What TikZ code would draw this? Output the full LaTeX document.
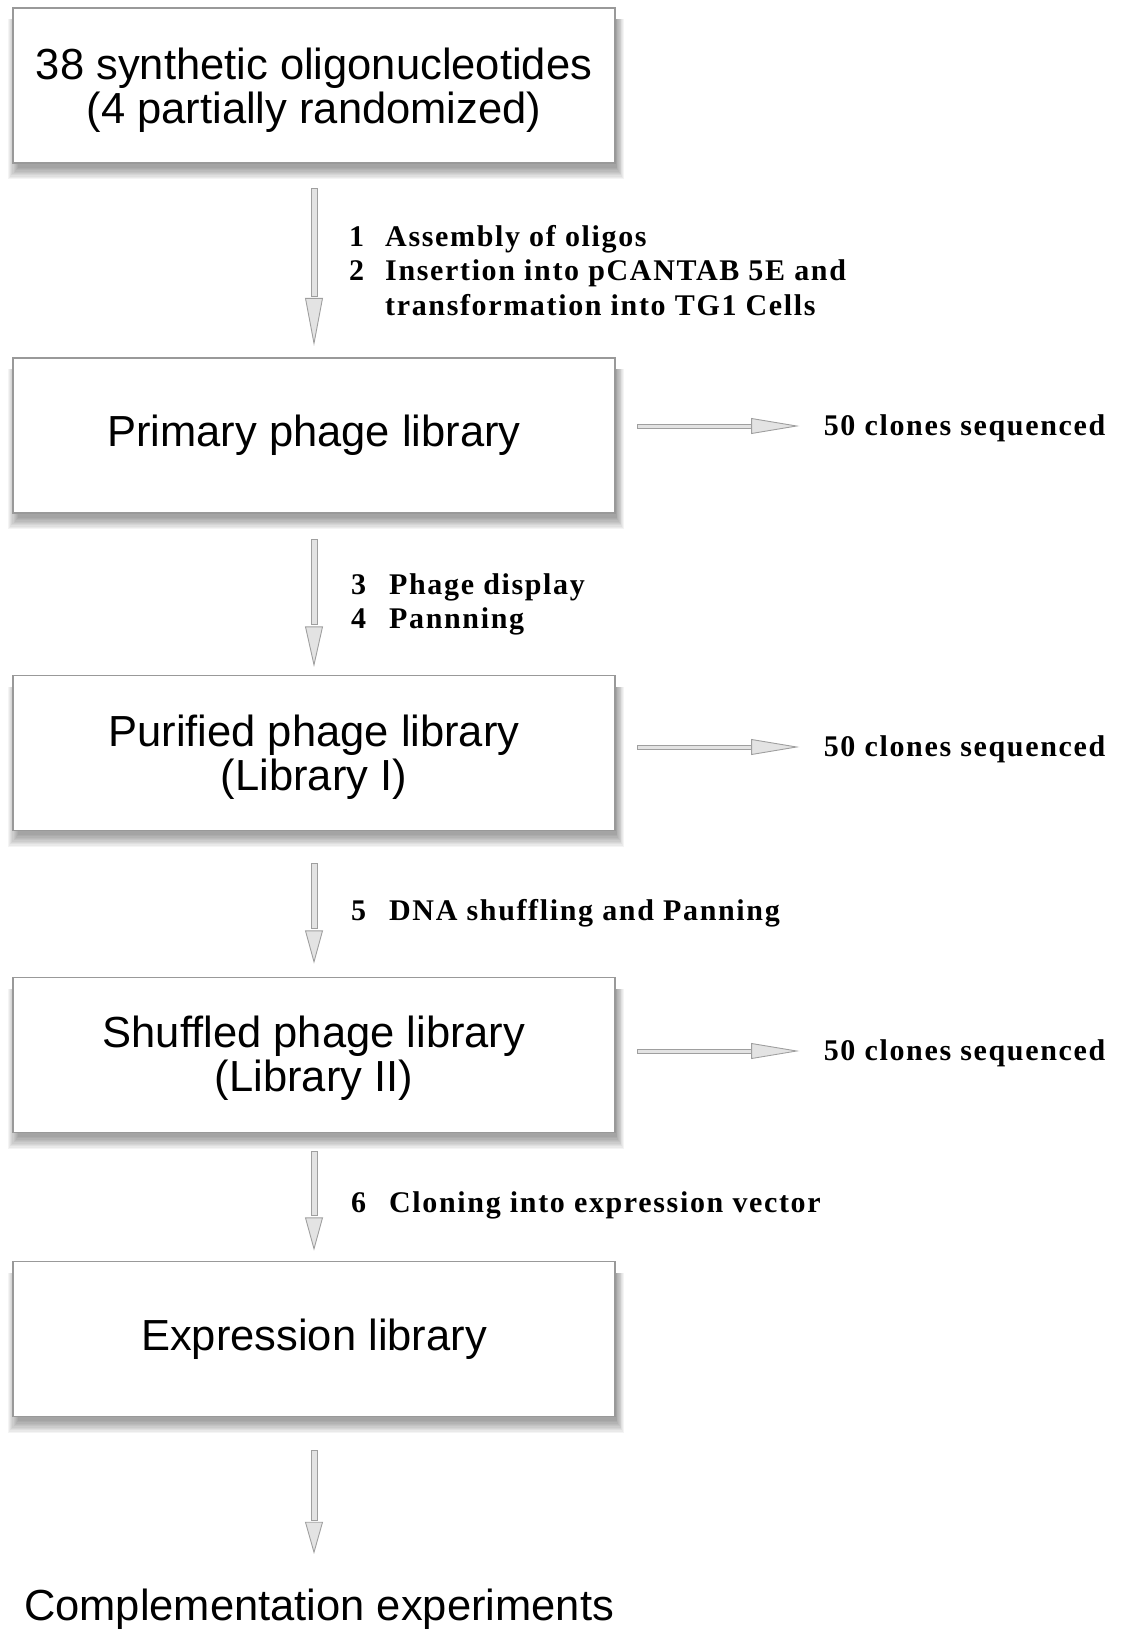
\documentclass[tikz,border=0pt]{standalone}
\usepackage{fontspec}
\setmainfont{Liberation Sans}
\newfontfamily\labfont[LetterSpace=5.5]{Liberation Serif}
\usetikzlibrary{calc,backgrounds}
\newcommand\vflow[3]{%
  \filldraw[afill] ($(#1)+(-3,0)$) rectangle ($(#2)+(3,-#3-2)$);
  \filldraw[afill] ($(#2)+(-8.5,-#3)$) -- (#2) -- ($(#2)+(8.5,-#3)$) -- cycle;}
\newcommand\hflow[2]{%
  \filldraw[afill] ($(#1)+(0,-2)$) rectangle ($(#2)+(-43,2)$);
  \filldraw[afill] ($(#2)+(-45,-7.5)$) -- (#2) -- ($(#2)+(-45,7.5)$) -- cycle;}
\newcommand\boxshade[1]{%
  \begin{pgfonlayer}{background}
  \foreach \k in {0,...,9}{
    \fill[black,opacity=0.045] ($(#1.south west)+(6-1.2*\k,4+1.3*\k)$) rectangle ($(#1.north east)+(1+0.8*\k,12)$);
  }
  \end{pgfonlayer}}
\begin{document}
\begin{tikzpicture}[x=1pt,y=-1pt,
  box/.style={draw=gray!80, line width=1.3pt, fill=white, minimum width=602pt,
    minimum height=155pt, align=center, inner sep=0pt,
    font=\fontsize{43.5}{44}\selectfont},
  bigtext/.style={inner sep=0pt, font=\fontsize{43.5}{44}\selectfont},
  lab/.style={inner sep=0pt, anchor=base west, align=left,
    font=\labfont\bfseries\fontsize{30}{34.5}\selectfont},
  afill/.style={fill=gray!22, draw=gray!75, line width=0.9pt, line join=miter},
]
\useasboundingbox (0,0) rectangle (1121,1630);

\node[box] (b1) at (314,85.5) {\rule{0pt}{42pt}38 synthetic oligonucleotides\\(4 partially randomized)};
\node[box] (b2) at (314,435.5) {Primary phage library};
\node[box] (b3) at (314,753) {\rule{0pt}{40pt}Purified phage library\\(Library I)};
\node[box] (b4) at (314,1055) {\rule{0pt}{37pt}Shuffled phage library\\(Library II)};
\node[box] (b5) at (314,1339) {Expression library};
\node[bigtext, anchor=base] (end) at (319,1620) {Complementation experiments};

\foreach \b in {b1,b2,b3,b4,b5}{\boxshade{\b}}

% vertical connectors
\coordinate (a1s) at ($(b1.south)+(0,25)$);
\coordinate (a1e) at ($(b2.north)+(0,-14)$);
\coordinate (a2s) at ($(b2.south)+(0,26)$);
\coordinate (a2e) at ($(b3.north)+(0,-10)$);
\coordinate (a3s) at ($(b3.south)+(0,32)$);
\coordinate (a3e) at ($(b4.north)+(0,-15)$);
\coordinate (a4s) at ($(b4.south)+(0,18)$);
\coordinate (a4e) at ($(b5.north)+(0,-12)$);
\coordinate (a5s) at ($(b5.south)+(0,33)$);
\coordinate (a5e) at ($(b5.south |- end.north)+(0,-36)$);
\vflow{a1s}{a1e}{45}
\vflow{a2s}{a2e}{38}
\vflow{a3s}{a3e}{31}
\vflow{a4s}{a4e}{31}
\vflow{a5s}{a5e}{30}

% side connectors
\coordinate (s2s) at ($(b2.east)+(22,-9.5)$);
\coordinate (s2e) at ($(b2.east)+(181,-9.5)$);
\coordinate (s3s) at ($(b3.east)+(22,-6)$);
\coordinate (s3e) at ($(b3.east)+(181,-6)$);
\coordinate (s4s) at ($(b4.east)+(22,-4)$);
\coordinate (s4e) at ($(b4.east)+(181,-4)$);
\hflow{s2s}{s2e}
\hflow{s3s}{s3e}
\hflow{s4s}{s4e}
\node[lab] (c2) at ($(s2e)+(27,9)$) {50 clones sequenced};
\node[lab] (c3) at ($(s3e)+(27,9)$) {50 clones sequenced};
\node[lab] (c4) at ($(s4e)+(27,9)$) {50 clones sequenced};

% step labels
\node[lab] (l1) at (349,246) {\begin{tabular}[t]{@{}p{36pt}@{}l@{}}1&Assembly of oligos\\2&Insertion into pCANTAB 5E and\\&transformation into TG1 Cells\end{tabular}};
\node[lab] (l2) at (351,594) {\begin{tabular}[t]{@{}p{38pt}@{}l@{}}3&Phage display\\4&Pannning\end{tabular}};
\node[lab] (l3) at (351,920) {\begin{tabular}[t]{@{}p{38pt}@{}l@{}}5&DNA shuffling and Panning\end{tabular}};
\node[lab] (l4) at (351,1212) {\begin{tabular}[t]{@{}p{38pt}@{}l@{}}6&Cloning into expression vector\end{tabular}};
\end{tikzpicture}
\end{document}
